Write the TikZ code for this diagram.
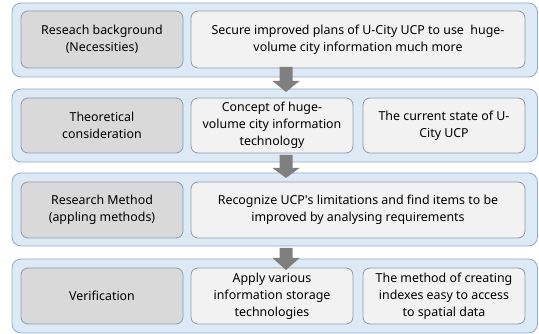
\documentclass[tikz,border=0pt]{standalone}
\usepackage{fontspec}
\setmainfont{Noto Sans}
\begin{document}
\begin{tikzpicture}[x=1pt,y=-1pt,
  band/.style={draw=bandline,fill=bandfill,line width=0.8pt,rounded corners=9pt},
  headbox/.style={draw=headline,fill=headfill,line width=0.8pt,rounded corners=7pt},
  itembox/.style={draw=itemline,fill=itemfill,line width=0.8pt,rounded corners=7pt},
  lbl/.style={align=center,font=\fontsize{12.4}{17}\selectfont,text=black},
  flow/.style={fill=flowgray}]
\definecolor{bandline}{HTML}{8FAAD0}
\definecolor{bandfill}{HTML}{DDEAF6}
\definecolor{headline}{HTML}{8C9CB0}
\definecolor{headfill}{HTML}{D9D9D9}
\definecolor{itemline}{HTML}{8C9CB0}
\definecolor{itemfill}{HTML}{F2F2F2}
\definecolor{flowgray}{HTML}{7F7F7F}
\useasboundingbox (0,0) rectangle (539,334);

% stage bands
\draw[band] (12,3) rectangle (537.5,77);
\draw[band] (12,89) rectangle (537.5,162);
\draw[band] (12,173) rectangle (537.5,246);
\draw[band] (12,259) rectangle (537.5,333);

% stage 1
\draw[headbox] (21,11) rectangle (183,68) node[midway,lbl] (h1) {Reseach background\\(Necessities)};
\draw[itembox] (191,11) rectangle (525,68) node[midway,lbl] (a1) {Secure improved plans of U-City UCP to use\ \ huge-\\volume city information much more};

% stage 2
\draw[headbox] (21,98) rectangle (183,153) node[midway,lbl] (h2) {Theoretical\\consideration};
\draw[itembox] (191,98) rectangle (353,153) node[midway,lbl] (a2) {Concept of huge-\\volume city information\\technology};
\draw[itembox] (363,98) rectangle (525,153) node[midway,lbl] (b2) {The current state of U-\\City UCP};

% stage 3
\draw[headbox] (21,182) rectangle (183,238) node[midway,lbl] (h3) {Research Method\\(appling methods)};
\draw[itembox] (191,182) rectangle (525,238) node[midway,lbl] (a3) {Recognize UCP\textquotesingle s limitations and find items to be\\improved by analysing requirements};

% stage 4
\draw[headbox] (21,268) rectangle (183,324) node[midway,lbl] (h4) {Verification};
\draw[itembox] (191,268) rectangle (353,324) node[midway,lbl] (a4) {Apply various\\information storage\\technologies};
\draw[itembox] (363,268) rectangle (525,324) node[midway,lbl] (b4) {The method of creating\\indexes easy to access\\to spatial data};

% flow arrows between stages
\newcommand\flowarrow[3]{%
  \fill[flow] (279.5,#1) -- (292.5,#1) -- (292.5,#2) -- (299.5,#2) -- (286,#3)
    -- (272.5,#2) -- (279.5,#2) -- cycle;}
\flowarrow{67}{81}{92}
\flowarrow{155}{168}{178}
\flowarrow{248}{258}{270}
\end{tikzpicture}
\end{document}
